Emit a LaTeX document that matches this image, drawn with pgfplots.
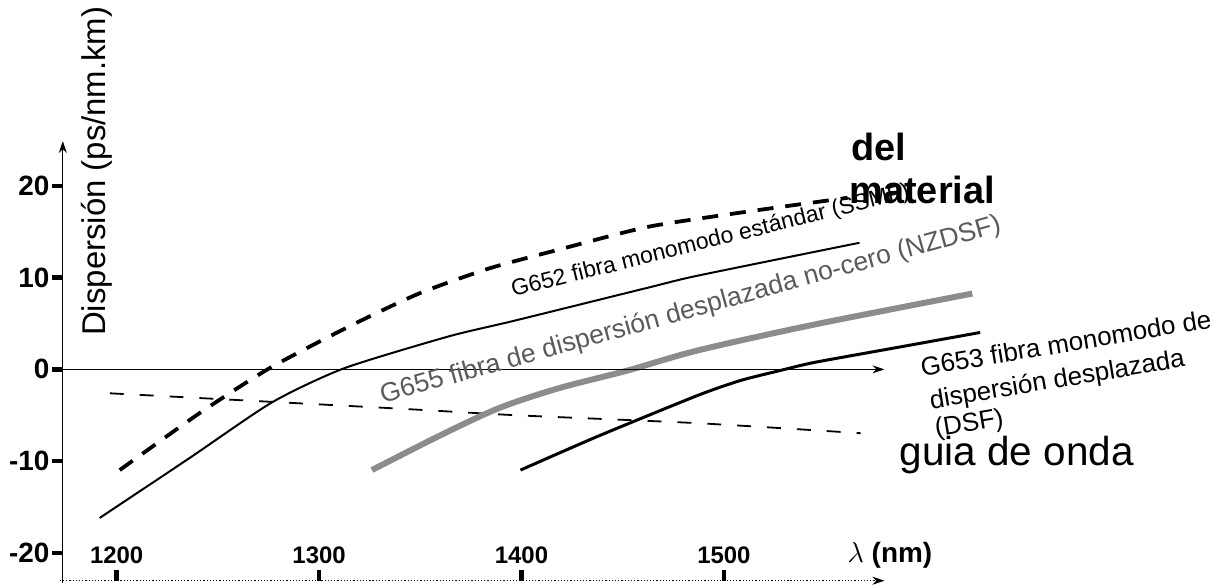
\documentclass[border=0pt]{standalone}
\usepackage{fontspec}
\setmainfont{Liberation Sans}
\usepackage{pgfplots}
\pgfplotsset{compat=1.18}
\usetikzlibrary{arrows.meta}
\definecolor{fgray}{RGB}{140,140,140}
\definecolor{tgray}{RGB}{90,90,90}
\begin{document}
\begin{tikzpicture}
\begin{axis}[
  scale only axis, width=576pt, height=288pt,
  xmin=1173.4, xmax=1740.9, ymin=-23.04, ymax=39.57,
  axis x line=bottom, axis y line=left,
  axis line style={draw=none},
  clip=false,
  xtick={1200,1300,1400,1500}, xticklabels={1200,1300,1400,1500},
  ytick={-20,-10,0,10,20}, yticklabels={-20,-10,0,10,20},
  xtick align=inside, ytick align=outside,
  major tick length=5.5pt,
  tick style={black, line width=2.2pt},
  x tick label style={font=\bfseries\fontsize{12}{12}\selectfont, anchor=south, yshift=5pt},
  y tick label style={font=\bfseries\fontsize{14}{14}\selectfont, inner xsep=1pt},
]
% material dispersion (thick dashed)
\addplot[black, line width=1.9pt, dash pattern=on 8pt off 6pt, smooth, tension=0.4] coordinates {
(1201.5,-10.98) (1240.9,-4.78) (1275.4,0.11) (1314.8,4.67) (1349.3,8.26) (1383.7,10.98) (1418.2,13.04) (1462.6,15.54) (1511.8,17.2) (1561.1,18.70)};
% G652
\addplot[black, line width=1pt, smooth, tension=0.4] coordinates {
(1191.6,-16.2) (1236.0,-9.67) (1276.8,-3.59) (1312.3,0.11) (1364.0,3.59) (1397.0,5.33) (1462.6,8.91) (1487.2,10.22) (1567.0,13.80)};
% waveguide dispersion (thin dashed)
\addplot[black, line width=0.9pt, dash pattern=on 7pt off 8pt, smooth, tension=0.4] coordinates {
(1196.6,-2.61) (1336.0,-4.24) (1397.0,-5.0) (1487.2,-5.87) (1567.5,-6.96)};
% G655 (gray thick)
\addplot[fgray, line width=3pt, smooth, tension=0.5] coordinates {
(1326.1,-10.98) (1359.1,-7.28) (1388.7,-4.24) (1418.2,-2.07) (1452.7,-0.11) (1487.2,2.07) (1544.8,4.89) (1622.7,8.26)};
% G653
\addplot[black, line width=1.5pt, smooth, tension=0.4] coordinates {
(1399.5,-10.98) (1437.9,-7.28) (1487.2,-2.83) (1508.4,-1.2) (1528.1,-0.11) (1544.8,0.76) (1585.7,2.39) (1626.6,4.02)};

% axes drawn by hand
\draw[line width=0.6pt, -{Stealth[length=6pt,width=4pt]}] (axis cs:1173.4,-23.26) -- (axis cs:1173.4,24.89);
\draw[line width=0.7pt, -{Stealth[length=6pt,width=4pt]}] (axis cs:1173.4,0) -- (axis cs:1579.3,0);
\draw[line width=0.6pt, densely dotted, -{Stealth[length=6pt,width=4pt]}] (axis cs:1171.9,-23.04) -- (axis cs:1579.3,-23.04);

% labels
\node[rotate=90, font=\fontsize{16.5}{16.5}\selectfont] at (axis cs:1190.15,21.6) {Dispersión (ps/nm.km)};
\node[anchor=base west, font=\fontsize{14}{14}\selectfont] at (axis cs:1557.6,-21.09) {$\lambda$ \bfseries(nm)};
\node[anchor=base west, font=\bfseries\fontsize{19}{19}\selectfont] at (axis cs:1559.6,22.72) {del};
\node[anchor=base west, font=\bfseries\fontsize{19}{19}\selectfont] at (axis cs:1558.6,18.04) {material};
\node[anchor=base west, font=\fontsize{20.3}{20.3}\selectfont] at (axis cs:1583.3,-10.43) {guia de onda};
\node[anchor=base west, rotate=14, font=\fontsize{11.5}{11.5}\selectfont] at (axis cs:1392.6,7.72) {G652 fibra monomodo estándar (SSMF)};
\node[anchor=base west, rotate=15.5, text=tgray, font=\fontsize{13.3}{13.3}\selectfont] at (axis cs:1328.1,-3.91) {G655 fibra de dispersión desplazada no-cero (NZDSF)};
\node[anchor=base west, rotate=9.5, font=\fontsize{13}{13}\selectfont] at (axis cs:1594.6,-0.87) {G653 fibra monomodo de};
\node[anchor=base west, rotate=9.5, font=\fontsize{13}{13}\selectfont] at (axis cs:1599.0,-4.46) {dispersión desplazada};
\node[anchor=base west, rotate=9.5, font=\fontsize{13}{13}\selectfont] at (axis cs:1601.5,-7.5) {(DSF)};

\path (axis cs:1142.36,-23.48) rectangle (axis cs:1743.3,40.1);
\end{axis}
\end{tikzpicture}
\end{document}
